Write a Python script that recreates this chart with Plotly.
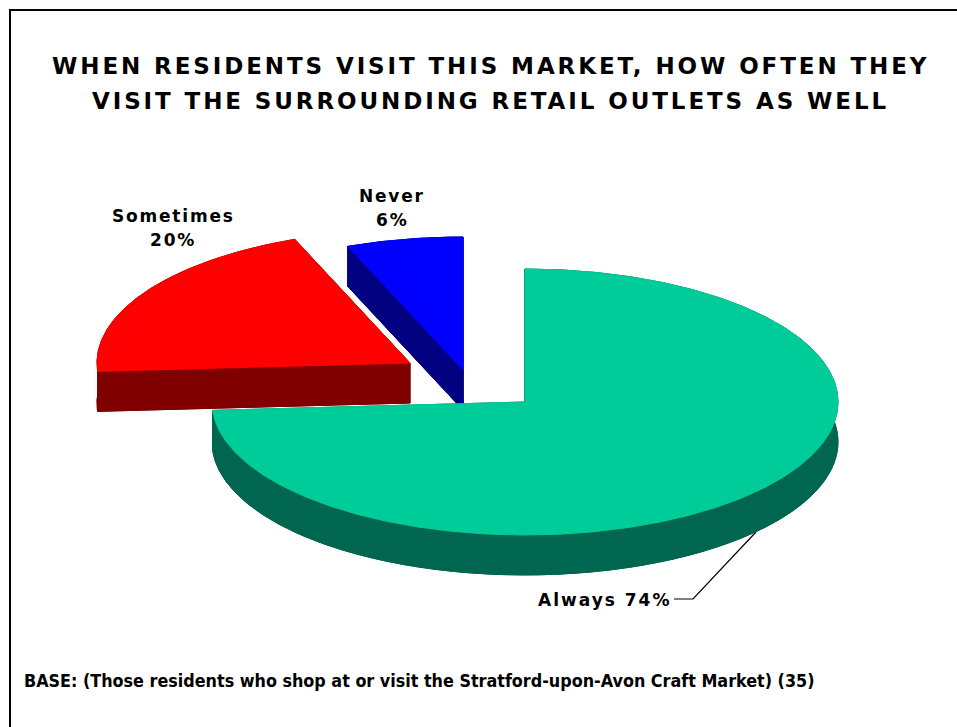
import numpy as np
import plotly.graph_objects as go

# ---- data ----
categories = ["Always", "Sometimes", "Never"]
shares = [74, 20, 6]
top_colors = ["#00CC99", "#FF0000", "#0000FF"]
side_colors = ["#006650", "#800000", "#000080"]

title_lines = [
    "WHEN RESIDENTS VISIT THIS MARKET, HOW OFTEN THEY",
    "VISIT THE SURROUNDING RETAIL OUTLETS AS WELL",
]
base_note = "BASE: (Those residents who shop at or visit the Stratford-upon-Avon Craft Market) (35)"

# ---- geometry of the tilted pie (pixel units on the plot axes) ----
W, H = 957, 727
CX, CY = 525, 402          # centre of the pie top
RX, RY = 313, 133          # ellipse radii of the tilted disc
DEPTH = 40                 # thickness of the disc
# explode offsets for each slice (dx, dy)
explode = {"Always": (0, 0), "Sometimes": (-115, -39), "Never": (-62, -32)}


def pt(theta_deg, cx, cy, dy=0.0):
    t = np.radians(theta_deg)
    return cx + RX * np.sin(t), cy - RY * np.cos(t) + dy


def arc(a0, a1, cx, cy, dy=0.0, n=None):
    n = n or max(4, int(abs(a1 - a0) * 2))
    th = np.linspace(a0, a1, n)
    t = np.radians(th)
    return cx + RX * np.sin(t), cy - RY * np.cos(t) + dy


def poly_trace(xs, ys, color):
    xs = list(xs) + [xs[0]]
    ys = list(ys) + [ys[0]]
    return go.Scatter(x=xs, y=ys, mode="lines", fill="toself",
                      fillcolor=color, line=dict(color=color, width=1),
                      hoverinfo="skip", showlegend=False)


def spaced(text, px):
    return f'<span style="letter-spacing:{px}px"><b>{text}</b></span>'


fig = go.Figure()

# angles clockwise from 12 o'clock
total = float(sum(shares))
starts, ends = [], []
acc = 0.0
for s in shares:
    starts.append(acc / total * 360)
    acc += s
    ends.append(acc / total * 360)

# draw back slices first, the large front slice last
order = [1, 2, 0]
for i in order:
    name = categories[i]
    a0, a1 = starts[i], ends[i]
    ox, oy = explode[name]
    cx, cy = CX + ox, CY + oy
    dark, light = side_colors[i], top_colors[i]

    # bottom face
    bx, by = arc(a0, a1, cx, cy, DEPTH)
    fig.add_trace(poly_trace([cx] + list(bx), [cy + DEPTH] + list(by), dark))
    # outer rim
    ax_, ay_ = arc(a0, a1, cx, cy)
    fig.add_trace(poly_trace(list(ax_) + list(bx[::-1]),
                             list(ay_) + list(by[::-1]), dark))
    # radial faces
    for a in (a0, a1):
        px, py = pt(a, cx, cy)
        fig.add_trace(poly_trace([cx, px, px, cx],
                                 [cy, py, py + DEPTH, cy + DEPTH], dark))
    # top face
    fig.add_trace(poly_trace([cx] + list(ax_), [cy] + list(ay_), light))

# leader line for the "Always" label
fig.add_trace(go.Scatter(x=[674, 693, 756], y=[599, 599, 532], mode="lines",
                         line=dict(color="black", width=1.2),
                         hoverinfo="skip", showlegend=False))

label_font = dict(family="DejaVu Sans", size=17, color="black")
annotations = [
    dict(x=173, y=216, text=spaced(categories[1], 1.8)),
    dict(x=173, y=240, text=spaced(f"{shares[1]}%", 1.8)),
    dict(x=392, y=196, text=spaced(categories[2], 1.8)),
    dict(x=392, y=220, text=spaced(f"{shares[2]}%", 1.8)),
    dict(x=604, y=600, text=spaced(f"{categories[0]} {shares[0]}%", 2.0)),
]
for a in annotations:
    a.update(xref="x", yref="y", showarrow=False, font=label_font,
             xanchor="center", yanchor="middle")

title_font = dict(family="DejaVu Sans", size=23, color="black")
annotations += [
    dict(x=490, y=66, xref="x", yref="y", text=spaced(title_lines[0], 2.9),
         showarrow=False, font=title_font, xanchor="center", yanchor="middle"),
    dict(x=490, y=101, xref="x", yref="y", text=spaced(title_lines[1], 2.9),
         showarrow=False, font=title_font, xanchor="center", yanchor="middle"),
    dict(x=22, y=680, xref="x", yref="y", text=f"<b>{base_note}</b>",
         showarrow=False, xanchor="left", yanchor="middle",
         font=dict(family="DejaVu Sans Condensed, DejaVu Sans", size=17.8,
                   color="black")),
]

fig.update_layout(
    width=W, height=H,
    margin=dict(l=0, r=0, t=0, b=0),
    paper_bgcolor="white", plot_bgcolor="white",
    xaxis=dict(range=[0, W], visible=False, fixedrange=True),
    yaxis=dict(range=[H, 0], visible=False, fixedrange=True),
    annotations=annotations,
    shapes=[dict(type="path", xref="x", yref="y",
                 path=f"M 10 {H + 5} L 10 10 L {W + 5} 10",
                 line=dict(color="black", width=2))],
)

fig.write_html("out.html")
